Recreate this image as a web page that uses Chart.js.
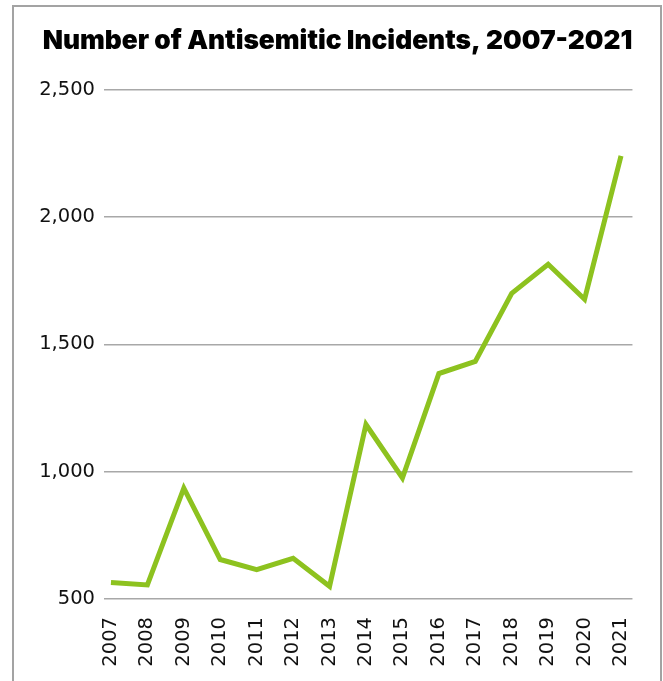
<!DOCTYPE html>
<html>
<head>
<meta charset="utf-8">
<script src="https://cdn.jsdelivr.net/npm/chart.js@4/dist/chart.umd.min.js"></script>
<style>
  html, body { margin: 0; padding: 0; background: #fff; }
  #wrap { position: relative; width: 663px; height: 681px; overflow: hidden; }
  #frame { position: absolute; left: 12px; top: 5px; width: 650px; height: 700px; border: 2px solid #a3a3a3; box-sizing: border-box; }
  canvas { position: absolute; left: 0; top: 0; }
</style>
</head>
<body>
<div id="wrap">
  <div id="frame"></div>
  <canvas id="c" width="663" height="681"></canvas>
</div>
<script>
const years = ["2007","2008","2009","2010","2011","2012","2013","2014","2015","2016","2017","2018","2019","2020","2021"];
const incidents = [565, 555, 935, 655, 615, 660, 550, 1185, 975, 1385, 1433, 1700, 1814, 1677, 2240];
const yTicks = [500, 1000, 1500, 2000, 2500];
const titleText = "Number of Antisemitic Incidents, 2007-2021";

const tickFont = { family: "'DejaVu Sans', sans-serif", size: 19.5 };

new Chart(document.getElementById('c'), {
  type: 'line',
  data: {
    datasets: [{
      data: years.map((y, i) => ({ x: Number(y), y: incidents[i] })),
      borderColor: '#8dc21f',
      borderWidth: 5,
      pointRadius: 0,
      tension: 0,
      borderJoinStyle: 'miter',
      borderCapStyle: 'butt',
      fill: false
    }]
  },
  options: {
    responsive: false,
    animation: false,
    layout: { padding: { left: 39, right: 27, top: 0, bottom: 0 } },
    plugins: {
      legend: { display: false },
      tooltip: { enabled: false },
      title: {
        display: true,
        text: titleText,
        color: '#000',
        font: { family: "Inter, 'Liberation Sans', sans-serif", size: 26.3, weight: '900' },
        padding: { top: 25, bottom: 33 }
      }
    },
    scales: {
      x: {
        type: 'linear',
        min: 2006.809,
        max: 2021.314,
        grid: { display: false, drawTicks: false },
        border: { display: false },
        afterBuildTicks: s => { s.ticks = years.map(v => ({ value: Number(v) })); },
        afterFit: s => { s.height = 82; },
        ticks: {
          color: '#111',
          font: tickFont,
          minRotation: 90,
          maxRotation: 90,
          padding: 18,
          autoSkip: false,
          callback: v => String(v)
        }
      },
      y: {
        min: 500,
        max: 2500,
        afterBuildTicks: s => { s.ticks = yTicks.map(v => ({ value: v })); },
        afterFit: s => { s.width = 65; },
        grid: { color: '#a8a8a8', lineWidth: 1.5, drawTicks: false },
        border: { display: false },
        ticks: {
          color: '#111',
          font: tickFont,
          padding: 9,
          callback: v => v.toLocaleString('en-US')
        }
      }
    }
  }
});
</script>
</body>
</html>
